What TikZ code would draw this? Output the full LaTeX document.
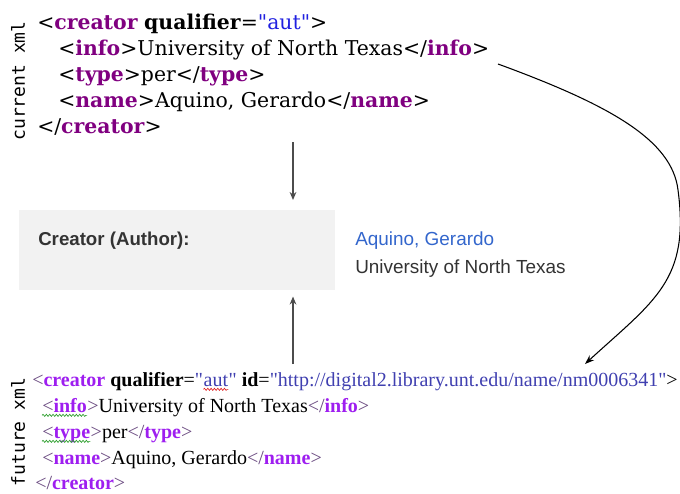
\documentclass[tikz,border=0pt]{standalone}
\usepackage{fontspec}
\usepackage{xcolor}
\usetikzlibrary{positioning,arrows.meta,decorations.pathmorphing}

\setmainfont{Liberation Serif}
\newfontfamily\curfont{DejaVu Serif}
\newfontfamily\lblfont{DejaVu Sans Mono}
\newfontfamily\webfont{Liberation Sans}

\definecolor{curtag}{HTML}{800080}
\definecolor{curval}{HTML}{2020E0}
\definecolor{futtag}{HTML}{9E1EF0}
\definecolor{futbr}{HTML}{6A4A80}
\definecolor{futval}{HTML}{4040B0}
\definecolor{boxgray}{HTML}{F2F2F2}
\definecolor{weblink}{HTML}{3366CC}
\definecolor{webtext}{HTML}{333333}
\definecolor{spellred}{HTML}{E02020}
\definecolor{spellgreen}{HTML}{30A030}

% current xml markup
\newcommand{\ctg}[1]{\textcolor{curtag}{\textbf{#1}}}
\newcommand{\cvl}[1]{\textcolor{curval}{#1}}
% future xml markup
\newcommand{\ftg}[1]{\textcolor{futtag}{\textbf{#1}}}
\newcommand{\fbr}[1]{\textcolor{futbr}{#1}}
\newcommand{\fvl}[1]{\textcolor{futval}{#1}}
\newcommand{\dq}{\XeTeXglyph\XeTeXcharglyph"22\relax}

\begin{document}
\begin{tikzpicture}[x=0.75pt, y=-0.75pt,
    cur/.style = {anchor=base west, inner sep=0pt, font=\curfont\fontsize{15.3}{17}\selectfont},
    fut/.style = {anchor=base west, inner sep=0pt, font=\fontsize{15}{17}\selectfont},
    side/.style = {rotate=90, inner sep=0pt, font=\lblfont\fontsize{13.5}{15}\selectfont},
    web/.style = {anchor=base west, inner sep=0pt, font=\webfont\fontsize{14.2}{16}\selectfont, text=webtext},
    flow/.style = {draw=black!70, line width=1.1pt, -{Stealth[length=6pt,width=5pt]}},
    back/.style = {draw=black, line width=0.8pt, -{Stealth[length=7pt,width=5pt]}},
    wave/.style = {line width=0.5pt, decorate, decoration={snake, amplitude=0.8pt, segment length=2.5pt}}
  ]
  \useasboundingbox (0,0) rectangle (680,493);

  % current xml
  \node[side] (curlbl) at (18,81) {current xml};
  \node[cur] (c1) at (37,29) {<\ctg{creator} \textbf{qualifier}=\cvl{\dq aut\dq}>};
  \node[cur] (c2) at (58,55) {<\ctg{info}>University of North Texas</\ctg{info}>};
  \node[cur] (c3) at (58,81) {<\ctg{type}>per</\ctg{type}>};
  \node[cur] (c4) at (58,107) {<\ctg{name}>Aquino, Gerardo</\ctg{name}>};
  \node[cur] (c5) at (37,133) {</\ctg{creator}>};

  % rendered record
  \node[fill=boxgray, anchor=north west, minimum width=237pt, minimum height=60pt, inner sep=0pt] (view) at (19,210) {};
  \node[web, font=\webfont\bfseries\fontsize{14}{16}\selectfont] (role) at (38,245) {Creator (Author):};
  \node[web, text=weblink] (who) at (355,245) {Aquino, Gerardo};
  \node[web] (aff) at (355,273) {University of North Texas};

  % future xml
  \node[side] (futlbl) at (18,432) {future xml};
  \node[fut] (f1) at (32,386) {\fbr{<}\ftg{creator} \textbf{qualifier}=\fvl{\dq}};
  \node[fut] (f1v) at (f1.base east) {\fvl{aut}};
  \node[fut] (f1r) at (f1v.base east) {\fvl{\dq} \textbf{id}=\fvl{\dq http://digital2.library.unt.edu/name/nm0006341\dq}>};
  \node[fut] (f2) at (42,412) {\fbr{<}\ftg{info}};
  \node[fut] (f2r) at (f2.base east) {\fbr{>}University of North Texas\fbr{</}\ftg{info}\fbr{>}};
  \node[fut] (f3) at (42,438) {\fbr{<}\ftg{type}};
  \node[fut] (f3r) at (f3.base east) {\fbr{>}per\fbr{</}\ftg{type}\fbr{>}};
  \node[fut] (f4) at (42,464) {\fbr{<}\ftg{name}\fbr{>}Aquino, Gerardo\fbr{</}\ftg{name}\fbr{>}};
  \node[fut] (f5) at (35,489) {\fbr{</}\ftg{creator}\fbr{>}};

  % spelling marks
  \draw[wave, spellred] ([yshift=-2.5pt]f1v.base west) -- ([yshift=-2.5pt]f1v.base east);
  \draw[wave, spellgreen] ([yshift=-2.5pt]f2.base west) -- ([yshift=-2.5pt]f2.base east);
  \draw[wave, spellgreen] ([yshift=-2.5pt]f3.base west) -- ([yshift=-2.5pt]f3.base east);

  % connectors
  \coordinate (cbot) at (293,142);
  \coordinate (ftop) at (293,364);
  \coordinate (cstart) at (498,64);
  \coordinate (bend) at (678,190);
  \coordinate (fend) at (585,364);
  \draw[flow, shorten >=7.5pt] (cbot) -- (cbot |- view.north);
  \draw[flow, shorten >=4.5pt] (ftop) -- (ftop |- view.south);
  \draw[back] (cstart) .. controls (610,105) and (672,140) .. (bend)
    .. controls (690,280) and (655,300) .. (fend);
\end{tikzpicture}
\end{document}
